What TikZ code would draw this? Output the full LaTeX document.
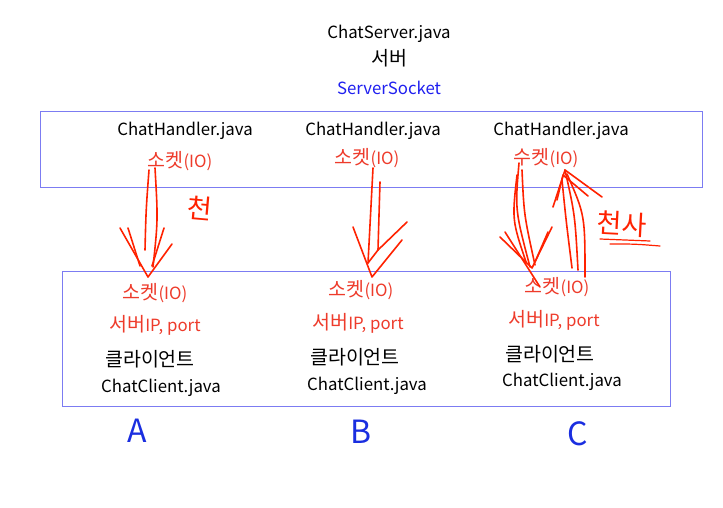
\documentclass[tikz,border=0pt]{standalone}
\usepackage{fontspec}
\setmainfont{Noto Sans CJK KR}
\definecolor{boxc}{HTML}{7C7CF2}
\definecolor{redt}{HTML}{EE3B2B}
\definecolor{pen}{HTML}{FF2200}
\definecolor{bluet}{HTML}{2020F0}
\definecolor{bluepen}{HTML}{1A2EE0}
\newcommand{\kr}[1]{{\fontsize{19.5}{20}\selectfont #1}}
\tikzset{
  txt/.style={inner sep=0pt, font=\fontsize{16.8}{18}\selectfont, text=black},
  rtxt/.style={txt, text=redt},
  frame/.style={draw=boxc, line width=0.8pt},
  stroke/.style={draw=pen, line width=1.6pt, line cap=round, line join=round},
  hand/.style={inner sep=0pt, text=pen, font=\fontsize{27}{28}\selectfont},
  letter/.style={inner sep=0pt, text=bluepen, font=\fontsize{32}{34}\selectfont}
}
\begin{document}
\begin{tikzpicture}[x=1pt,y=-1pt]
\useasboundingbox (0,0) rectangle (723,508);
\fill[white] (0,0) rectangle (723,508);
% frames
\draw[frame] (40,111) rectangle (702,187);
\draw[frame] (62,271) rectangle (670,406);
% server texts
\node[txt] (srv) at (389,34) {ChatServer.java};
\node[txt] (srvk) at (389,58) {\kr{서버}};
\node[txt, text=bluet] (ss) at (389,88) {ServerSocket};
% handlers
\node[txt] (h1) at (185,131) {ChatHandler.java};
\node[txt] (h2) at (373,131) {ChatHandler.java};
\node[txt] (h3) at (561,131) {ChatHandler.java};
\node[rtxt] (hs1) at (180,161) {\kr{소켓}(IO)};
\node[rtxt] (hs2) at (367,158) {\kr{소켓}(IO)};
\node[rtxt] (hs3) at (546,158) {\kr{수켓}(IO)};
% clients
\node[rtxt] (cs1) at (155,293) {\kr{소켓}(IO)};
\node[rtxt] (cs2) at (361,290) {\kr{소켓}(IO)};
\node[rtxt] (cs3) at (557,287) {\kr{소켓}(IO)};
\node[rtxt] (ip1) at (155,325) {\kr{서버}IP, port};
\node[rtxt] (ip2) at (358,323) {\kr{서버}IP, port};
\node[rtxt] (ip3) at (554,320) {\kr{서버}IP, port};
\node[txt] (k1) at (150,359) {\kr{클라이언트}};
\node[txt] (k2) at (355,357) {\kr{클라이언트}};
\node[txt] (k3) at (550,354) {\kr{클라이언트}};
\node[txt] (c1) at (161,388) {ChatClient.java};
\node[txt] (c2) at (367,386) {ChatClient.java};
\node[txt] (c3) at (562,382) {ChatClient.java};
% letters
\node[letter] (la) at (137,431) {A};
\node[letter] (lb) at (361,432) {B};
\node[letter] (lc) at (578,434) {C};
% handwriting
\node[hand, rotate=-5] (w1) at (200,208) {천};
\node[hand, rotate=-3] (w2) at (622,224) {천사};
\draw[stroke, line width=1.2pt] (600,239) .. controls (625,240) .. (650,241);
\draw[stroke, line width=1.2pt] (610,244) .. controls (635,244) .. (660,246);
% arrow A
\draw[stroke] (149,170) .. controls (146,210) .. (145,250);
\draw[stroke] (155,168) .. controls (158,220) .. (153,267);
\draw[stroke] (120,228) -- (148,277) -- (172,244);
\draw[stroke] (128,228) -- (140,266);
\draw[stroke] (164,228) -- (152,266);
% arrow B
\draw[stroke] (373,168) .. controls (370,215) .. (368,263);
\draw[stroke] (380,182) .. controls (379,215) .. (378,250);
\draw[stroke] (353,227) -- (372,277) -- (402,240);
\draw[stroke] (407,222) -- (378,250);
\draw[stroke] (368,263) -- (378,250);
% arrow C down
\draw[stroke] (519,163) .. controls (515,210) .. (530,267);
\draw[stroke] (522,170) .. controls (524,215) .. (535,265);
\draw[stroke] (517,175) .. controls (512,220) .. (526,262);
\draw[stroke] (500,237) -- (532,268) -- (552,227);
\draw[stroke] (505,232) -- (540,287);
\draw[stroke] (548,232) -- (535,262);
% arrow C up
\draw[stroke] (578,270) .. controls (575,215) .. (565,170);
\draw[stroke] (585,277) .. controls (585,215) .. (567,174);
\draw[stroke] (572,268) .. controls (566,220) .. (562,180);
\draw[stroke] (553,207) -- (565,170) -- (602,197);
\draw[stroke] (557,200) -- (563,175) -- (588,196);
\end{tikzpicture}
\end{document}
